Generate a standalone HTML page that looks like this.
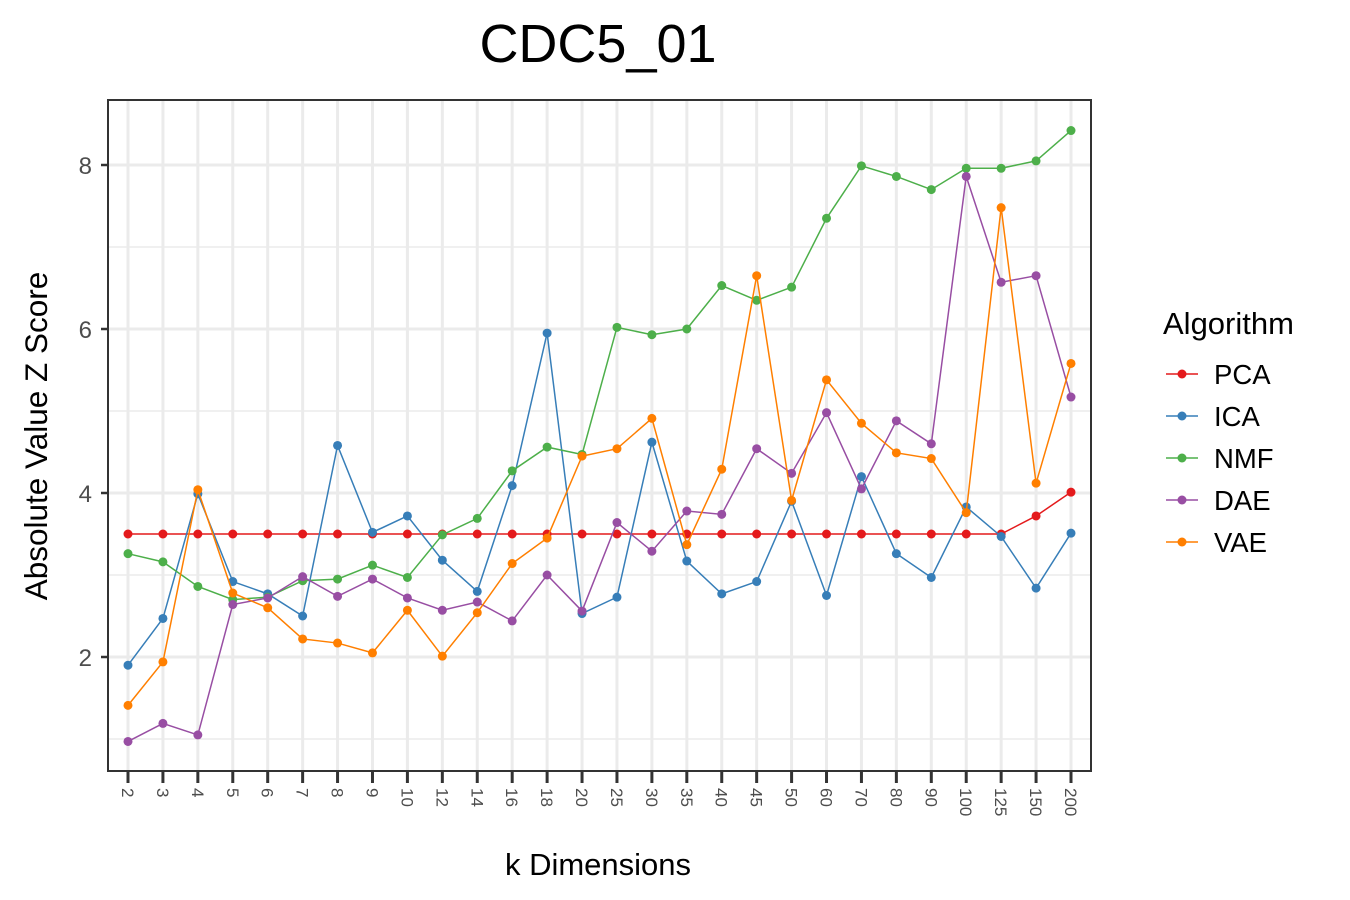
<!DOCTYPE html>
<html><head><meta charset="utf-8"><style>body{margin:0;background:#fff}svg{display:block;font-family:"Liberation Sans",Arial,sans-serif}</style></head>
<body>
<svg id="chart" width="1350" height="900">
<text x="598" y="62" font-size="54" text-anchor="middle" fill="#000">CDC5_01</text>
<g id="grid"></g><g id="series"></g><g id="axes"></g>
<text x="598" y="875" font-size="31" text-anchor="middle">k Dimensions</text>
<text transform="translate(47,436) rotate(-90)" font-size="31.5" text-anchor="middle">Absolute Value Z Score</text>
<text x="1163" y="334" font-size="31">Algorithm</text>
<g id="legend"></g>
</svg>
<script>
const categories=["2","3","4","5","6","7","8","9","10","12","14","16","18","20","25","30","35","40","45","50","60","70","80","90","100","125","150","200"];
const seriesNames=["PCA","ICA","NMF","DAE","VAE"];
const seriesColors=["#e41a1c","#377eb8","#4daf4a","#984ea3","#ff7f00"];
const pca=[3.5,3.5,3.5,3.5,3.5,3.5,3.5,3.5,3.5,3.5,3.5,3.5,3.5,3.5,3.5,3.5,3.5,3.5,3.5,3.5,3.5,3.5,3.5,3.5,3.5,3.5,3.72,4.01];
const ica=[1.9,2.47,3.99,2.92,2.77,2.5,4.58,3.52,3.72,3.18,2.8,4.09,5.95,2.53,2.73,4.62,3.17,2.77,2.92,3.9,2.75,4.2,3.26,2.97,3.83,3.47,2.84,3.51];
const nmf=[3.26,3.16,2.86,2.7,2.73,2.93,2.95,3.12,2.97,3.49,3.69,4.27,4.56,4.47,6.02,5.93,6.0,6.53,6.35,6.51,7.35,7.99,7.86,7.7,7.96,7.96,8.05,8.42];
const dae=[0.97,1.19,1.05,2.64,2.72,2.98,2.74,2.95,2.72,2.57,2.67,2.44,3.0,2.56,3.64,3.29,3.78,3.74,4.54,4.24,4.98,4.05,4.88,4.6,7.86,6.57,6.65,5.17];
const vae=[1.41,1.94,4.04,2.78,2.6,2.22,2.17,2.05,2.57,2.01,2.54,3.14,3.45,4.45,4.54,4.91,3.37,4.29,6.65,3.91,5.38,4.85,4.49,4.42,3.76,7.48,4.12,5.58];
const yTicks=[2,4,6,8];
const yMinor=[1,3,5,7];
const NS="http://www.w3.org/2000/svg";
const L=108,R=1091,T=100,B=771;
const x=i=>128+i*(1071-128)/(categories.length-1);
const y=v=>821-v*82;
function mk(t,a,p){const e=document.createElementNS(NS,t);for(const k in a)e.setAttribute(k,a[k]);p.appendChild(e);return e;}
const grid=document.getElementById('grid'),axes=document.getElementById('axes'),ser=document.getElementById('series'),leg=document.getElementById('legend');
yMinor.forEach(v=>{const l=mk('line',{x1:L,x2:R,y1:y(v),y2:y(v),stroke:'#ebebeb','stroke-width':1.5},grid);

});
yTicks.forEach(v=>{const l=mk('line',{x1:L,x2:R,y1:y(v),y2:y(v),stroke:'#ebebeb','stroke-width':3},grid);


const t=mk('text',{x:92,y:y(v)+9,'font-size':24,'text-anchor':'end',fill:'#4d4d4d'},axes);t.textContent=v;


const tk=mk('line',{x1:101,x2:L,y1:y(v),y2:y(v),stroke:'#333','stroke-width':2.5},axes);

});
categories.forEach((c,i)=>{const l=mk('line',{x1:x(i),x2:x(i),y1:T,y2:B,stroke:'#ebebeb','stroke-width':3},grid);


const tk=mk('line',{x1:x(i),x2:x(i),y1:B,y2:B+12,stroke:'#333','stroke-width':3},axes);


const t=mk('text',{transform:`translate(${x(i)-6},788) rotate(90)`,'font-size':17,fill:'#4d4d4d'},axes);t.textContent=c;

});
const fr=mk('rect',{x:L,y:T,width:R-L,height:B-T,fill:'none',stroke:'#333','stroke-width':2},axes);


[pca,ica,nmf,dae,vae].forEach((d,s)=>{const col=seriesColors[s];
const pl=mk('polyline',{points:d.map((v,i)=>x(i)+','+y(v)).join(' '),fill:'none',stroke:col,'stroke-width':1.5},ser);


d.forEach((v,i)=>{const p=mk('circle',{cx:x(i),cy:y(v),r:4.5,fill:col},ser);

});
const ly=374+s*42;
const g=mk('g',{},leg);


mk('line',{x1:1166,x2:1198,y1:ly,y2:ly,stroke:col,'stroke-width':1.5},g);
mk('circle',{cx:1182,cy:ly,r:4.5,fill:col},g);
const t=mk('text',{x:1214,y:ly+10,'font-size':27.5},g);t.textContent=seriesNames[s];});
</script>
</body></html>
